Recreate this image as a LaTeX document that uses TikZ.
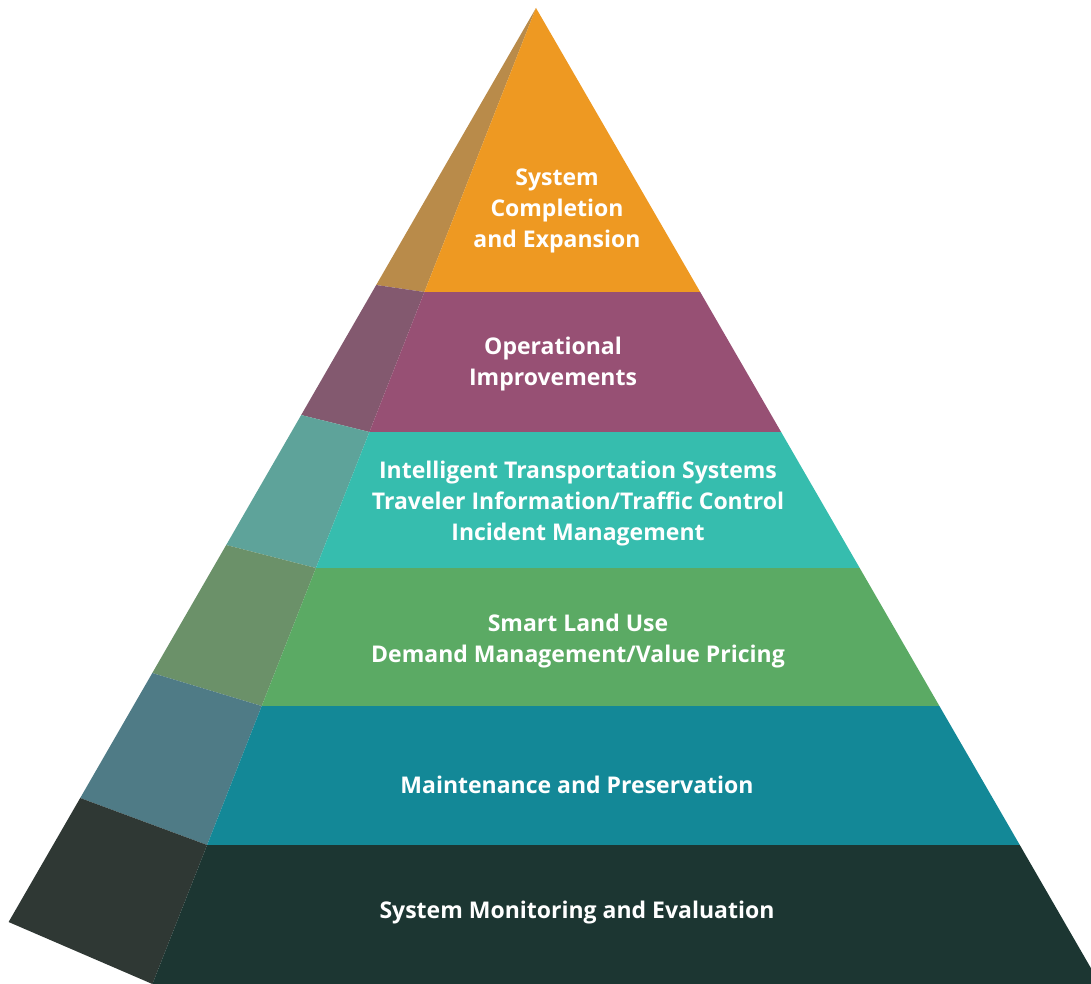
\documentclass[tikz,border=0pt]{standalone}
\usepackage{fontspec}
\setmainfont{Open Sans}
\usetikzlibrary{positioning}
\definecolor{orgF}{HTML}{EE9922}
\definecolor{orgS}{HTML}{B98B4A}
\definecolor{purF}{HTML}{975074}
\definecolor{purS}{HTML}{83596F}
\definecolor{tealF}{HTML}{36BDAE}
\definecolor{tealS}{HTML}{5EA39A}
\definecolor{grnF}{HTML}{5BAA64}
\definecolor{grnS}{HTML}{6B9169}
\definecolor{bluF}{HTML}{138897}
\definecolor{bluS}{HTML}{4F7B86}
\definecolor{drkF}{HTML}{1C3632}
\definecolor{drkS}{HTML}{2F3834}
\tikzset{
  lbl/.style={text=white,font=\fontsize{23}{31}\selectfont\bfseries,align=center,inner sep=0pt}
}

\begin{document}
\begin{tikzpicture}[x=1pt,y=-1pt]
\useasboundingbox (0,0) rectangle (1091,984);

% corners of the layers: front left (fl), front right (fr), back left (bl)
\coordinate (top) at (536,8);
\coordinate (fl1) at (424.4,292);  \coordinate (fr1) at (700.2,292);  \coordinate (bl1) at (376.2,285);
\coordinate (fl2) at (369.4,432);  \coordinate (fr2) at (781.1,432);  \coordinate (bl2) at (301.2,415);
\coordinate (fl3) at (315.9,568);  \coordinate (fr3) at (859.7,568);  \coordinate (bl3) at (226.2,545);
\coordinate (fl4) at (261.7,706);  \coordinate (fr4) at (939.4,706);  \coordinate (bl4) at (152.3,673);
\coordinate (fl5) at (207.1,845);  \coordinate (fr5) at (1019.8,845); \coordinate (bl5) at (80.2,798);
\coordinate (fl6) at (152.4,984);  \coordinate (fr6) at (1100.1,984); \coordinate (bl6) at (8.6,922);

% side face
\fill[orgS] (top) -- (bl1) -- (fl1) -- cycle;
\fill[purS] (bl1) -- (bl2) -- (fl2) -- (fl1) -- cycle;
\fill[tealS] (bl2) -- (bl3) -- (fl3) -- (fl2) -- cycle;
\fill[grnS] (bl3) -- (bl4) -- (fl4) -- (fl3) -- cycle;
\fill[bluS] (bl4) -- (bl5) -- (fl5) -- (fl4) -- cycle;
\fill[drkS] (bl5) -- (bl6) -- (fl6) -- (fl5) -- cycle;

% front face
\fill[orgF] (top) -- (fl1) -- (fr1) -- cycle;
\fill[purF] (fl1) -- (fl2) -- (fr2) -- (fr1) -- cycle;
\fill[tealF] (fl2) -- (fl3) -- (fr3) -- (fr2) -- cycle;
\fill[grnF] (fl3) -- (fl4) -- (fr4) -- (fr3) -- cycle;
\fill[bluF] (fl4) -- (fl5) -- (fr5) -- (fr4) -- cycle;
\fill[drkF] (fl5) -- (fl6) -- (fr6) -- (fr5) -- cycle;

\node[lbl] (expand) at (557,211) {System\\Completion\\and Expansion};
\node[lbl] (oper) at (553,364) {Operational\\Improvements};
\node[lbl] (its) at (578,504) {Intelligent Transportation Systems\\Traveler Information/Traffic Control\\Incident Management};
\node[lbl] (land) at (578,641) {Smart Land Use\\Demand Management/Value Pricing};
\node[lbl] (maint) at (577,785) {Maintenance and Preservation};
\node[lbl] (monitor) at (577,913) {System Monitoring and Evaluation};

\end{tikzpicture}
\end{document}
